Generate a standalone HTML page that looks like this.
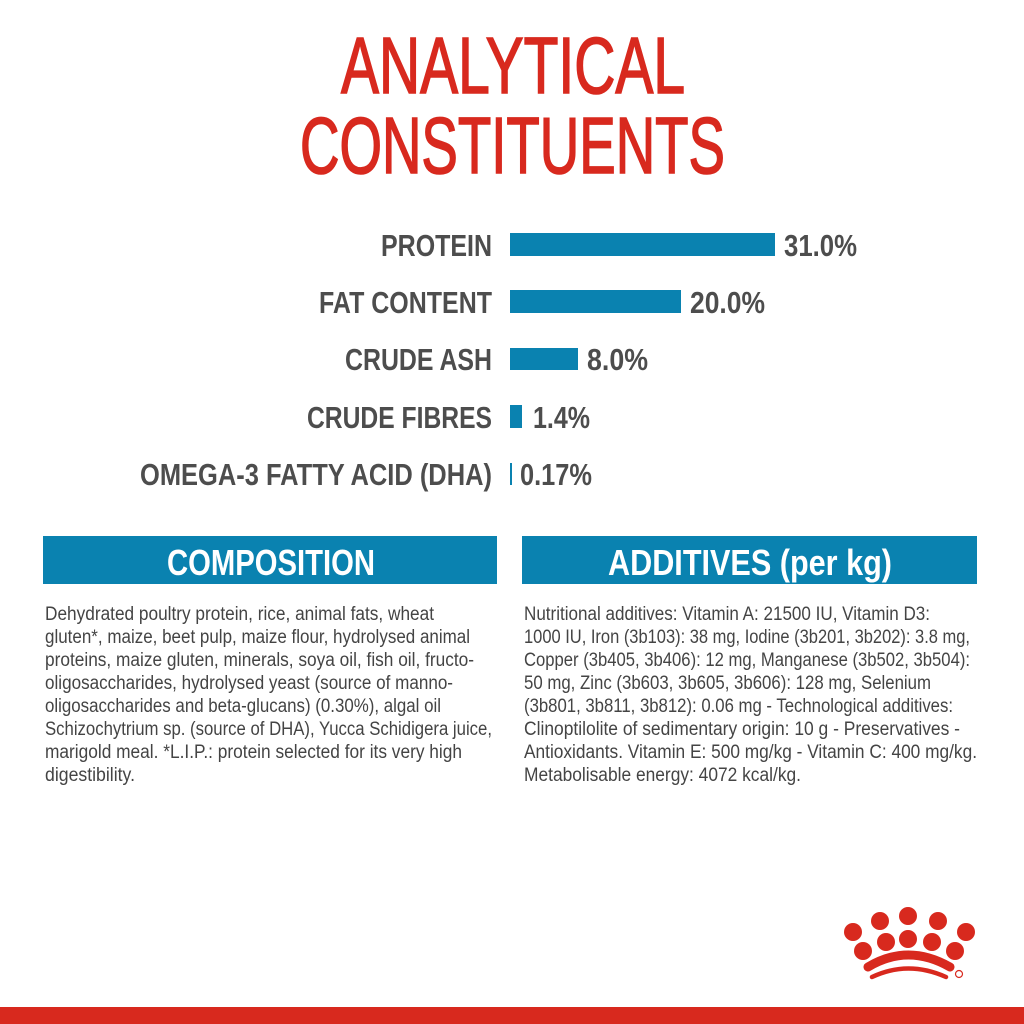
<!DOCTYPE html>
<html><head><meta charset="utf-8"><style>html,body{margin:0;padding:0;background:#fff}svg{display:block}</style></head>
<body>
<svg width="1024" height="1024" viewBox="0 0 1024 1024" xmlns="http://www.w3.org/2000/svg" font-family="Liberation Sans, sans-serif">
<rect width="1024" height="1024" fill="#fff"/>
<g fill="#d8291e" stroke="#d8291e" stroke-width="1.6" font-size="80">
<text x="341" y="93" textLength="344" lengthAdjust="spacingAndGlyphs">ANALYTICAL</text>
<text x="300" y="173" textLength="425" lengthAdjust="spacingAndGlyphs">CONSTITUENTS</text>
</g>
<g fill="#0a82b0">
<rect x="510" y="233" width="265" height="23"/>
<rect x="510" y="290" width="171" height="23"/>
<rect x="510" y="348" width="68" height="22"/>
<rect x="510" y="405" width="12" height="23"/>
<rect x="510" y="463" width="2" height="22"/>
</g>
<g fill="#4d4d4d" font-weight="bold" font-size="31">
<text x="381" y="256" textLength="111" lengthAdjust="spacingAndGlyphs">PROTEIN</text>
<text x="319" y="313" textLength="173" lengthAdjust="spacingAndGlyphs">FAT CONTENT</text>
<text x="345" y="370" textLength="147" lengthAdjust="spacingAndGlyphs">CRUDE ASH</text>
<text x="307" y="428" textLength="185" lengthAdjust="spacingAndGlyphs">CRUDE FIBRES</text>
<text x="140" y="485" textLength="352" lengthAdjust="spacingAndGlyphs">OMEGA-3 FATTY ACID (DHA)</text>
<text x="784" y="256" textLength="73" lengthAdjust="spacingAndGlyphs">31.0%</text>
<text x="690" y="313" textLength="75" lengthAdjust="spacingAndGlyphs">20.0%</text>
<text x="587" y="370" textLength="61" lengthAdjust="spacingAndGlyphs">8.0%</text>
<text x="533" y="428" textLength="57" lengthAdjust="spacingAndGlyphs">1.4%</text>
<text x="520" y="485" textLength="72" lengthAdjust="spacingAndGlyphs">0.17%</text>
</g>
<rect x="43" y="536" width="454" height="48" fill="#0a82b0"/>
<rect x="522" y="536" width="455" height="48" fill="#0a82b0"/>
<g fill="#fff" font-weight="bold" font-size="36">
<text x="167" y="575" textLength="208" lengthAdjust="spacingAndGlyphs">COMPOSITION</text>
<text x="608" y="575" textLength="284" lengthAdjust="spacingAndGlyphs">ADDITIVES (per kg)</text>
</g>
<g fill="#444" font-size="19">
<text x="45" y="620" textLength="389" lengthAdjust="spacingAndGlyphs">Dehydrated poultry protein, rice, animal fats, wheat</text>
<text x="45" y="643" textLength="425" lengthAdjust="spacingAndGlyphs">gluten*, maize, beet pulp, maize flour, hydrolysed animal</text>
<text x="45" y="666" textLength="429" lengthAdjust="spacingAndGlyphs">proteins, maize gluten, minerals, soya oil, fish oil, fructo-</text>
<text x="45" y="689" textLength="408" lengthAdjust="spacingAndGlyphs">oligosaccharides, hydrolysed yeast (source of manno-</text>
<text x="45" y="712" textLength="396" lengthAdjust="spacingAndGlyphs">oligosaccharides and beta-glucans) (0.30%), algal oil</text>
<text x="45" y="735" textLength="447" lengthAdjust="spacingAndGlyphs">Schizochytrium sp. (source of DHA), Yucca Schidigera juice,</text>
<text x="45" y="758" textLength="417" lengthAdjust="spacingAndGlyphs">marigold meal. *L.I.P.: protein selected for its very high</text>
<text x="45" y="781" textLength="90" lengthAdjust="spacingAndGlyphs">digestibility.</text>
<text x="524" y="620" textLength="406" lengthAdjust="spacingAndGlyphs">Nutritional additives: Vitamin A: 21500 IU, Vitamin D3:</text>
<text x="524" y="643" textLength="446" lengthAdjust="spacingAndGlyphs">1000 IU, Iron (3b103): 38 mg, Iodine (3b201, 3b202): 3.8 mg,</text>
<text x="524" y="666" textLength="446" lengthAdjust="spacingAndGlyphs">Copper (3b405, 3b406): 12 mg, Manganese (3b502, 3b504):</text>
<text x="524" y="689" textLength="407" lengthAdjust="spacingAndGlyphs">50 mg, Zinc (3b603, 3b605, 3b606): 128 mg, Selenium</text>
<text x="524" y="712" textLength="429" lengthAdjust="spacingAndGlyphs">(3b801, 3b811, 3b812): 0.06 mg - Technological additives:</text>
<text x="524" y="735" textLength="436" lengthAdjust="spacingAndGlyphs">Clinoptilolite of sedimentary origin: 10 g - Preservatives -</text>
<text x="524" y="758" textLength="453" lengthAdjust="spacingAndGlyphs">Antioxidants. Vitamin E: 500 mg/kg - Vitamin C: 400 mg/kg.</text>
<text x="524" y="781" textLength="277" lengthAdjust="spacingAndGlyphs">Metabolisable energy: 4072 kcal/kg.</text>
</g>
<g fill="#d8291e">
<circle cx="908" cy="916" r="9"/>
<circle cx="880" cy="921" r="9"/>
<circle cx="938" cy="921" r="9"/>
<circle cx="853" cy="932" r="9"/>
<circle cx="966" cy="932" r="9"/>
<circle cx="863" cy="951" r="9"/>
<circle cx="886" cy="942" r="9"/>
<circle cx="908" cy="939" r="9"/>
<circle cx="932" cy="942" r="9"/>
<circle cx="955" cy="951" r="9"/>
<path d="M868 967 Q908 943 950 967" stroke="#d8291e" stroke-width="9" fill="none" stroke-linecap="round"/>
<path d="M872 977 Q908 960 946 977" stroke="#d8291e" stroke-width="4.5" fill="none" stroke-linecap="round"/>
<circle cx="959" cy="974" r="3.5" fill="none" stroke="#d8291e" stroke-width="1.2"/>
<rect x="0" y="1007" width="1024" height="17"/>
</g>
</svg>
</body></html>
